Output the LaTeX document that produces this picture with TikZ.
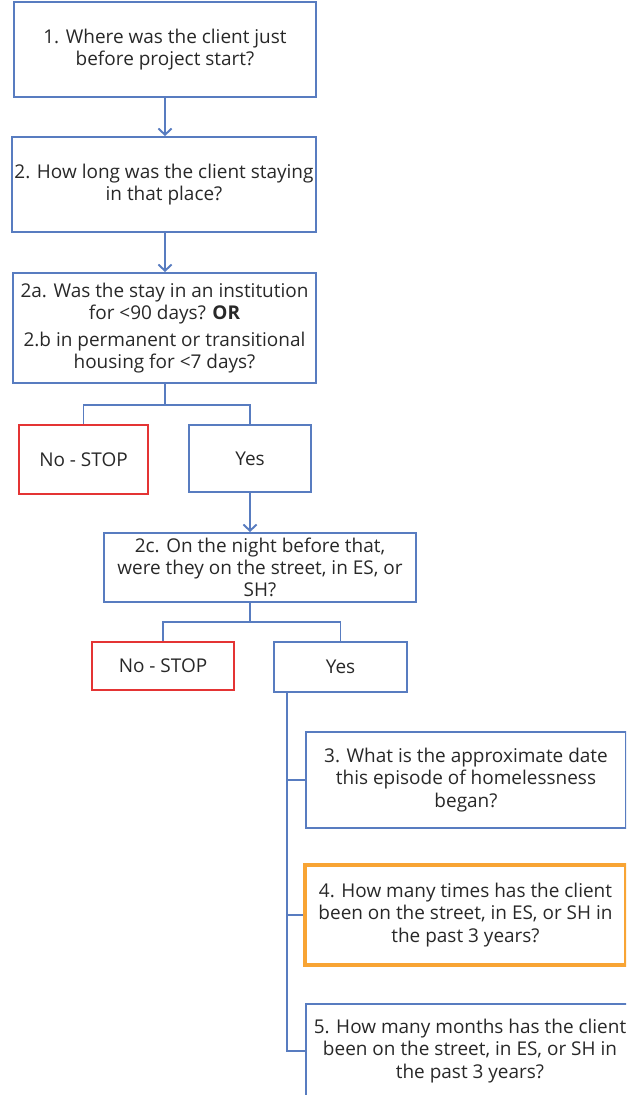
\documentclass[tikz,border=0pt]{standalone}
\usepackage{fontspec}
\setmainfont{Open Sans}
\usetikzlibrary{arrows.meta}
\definecolor{boxblue}{RGB}{88,124,192}
\definecolor{stopred}{RGB}{228,52,52}
\definecolor{markorange}{RGB}{248,164,52}
\definecolor{txtgray}{RGB}{40,40,40}

\begin{document}
\begin{tikzpicture}[auto,
    qbox/.style={draw=boxblue, line width=1.1pt, align=center, inner sep=0pt,
      text=txtgray, font=\fontsize{10.8}{12.6}\selectfont},
    stopbox/.style={qbox, draw=stopred},
    markbox/.style={qbox, draw=markorange, line width=2.3pt},
    link/.style={draw=boxblue, line width=1.1pt},
    flow/.style={link, -{Straight Barb[length=3.5pt,width=7.5pt]}}]
    \clip (0,0) rectangle (12.52,21.9);
    \node[qbox, minimum width=6.04cm, minimum height=1.90cm] (q1) at (3.30, 20.91) {1. Where was the client just\\before project start?};
    \node[qbox, minimum width=6.08cm, minimum height=1.90cm] (q2) at (3.28, 18.21) {2. How long was the client staying\\in that place?};
    \node[qbox, minimum width=6.06cm, minimum height=2.20cm] (q2a) at (3.29, 15.34) {2a. Was the stay in an institution\\for <90 days? \textbf{OR}\\[3pt]2.b in permanent or transitional\\housing for <7 days?};
    \node[stopbox, minimum width=2.58cm, minimum height=1.38cm] (no1) at (1.67, 12.71) {No - STOP};
    \node[qbox, minimum width=2.44cm, minimum height=1.34cm] (yes1) at (5.00, 12.73) {Yes};
    \node[qbox, minimum width=6.24cm, minimum height=1.38cm] (q2c) at (5.20, 10.55) {2c. On the night before that,\\were they on the street, in ES, or\\SH?};
    \node[stopbox, minimum width=2.84cm, minimum height=0.96cm] (no2) at (3.26, 8.58) {No - STOP};
    \node[qbox, minimum width=2.66cm, minimum height=1.00cm] (yes2) at (6.81, 8.56) {Yes};
    \node[qbox, minimum width=6.40cm, minimum height=1.92cm] (q3) at (9.32, 6.30) {3. What is the approximate date\\this episode of homelessness\\began?};
    \node[markbox, minimum width=6.42cm, minimum height=2.00cm] (q4) at (9.31, 3.60) {4. How many times has the client\\been on the street, in ES, or SH in\\the past 3 years?};
    \node[qbox, minimum width=6.56cm, minimum height=1.88cm] (q5) at (9.40, 0.88) {5. How many months has the client\\been on the street, in ES, or SH in\\the past 3 years?};
    \coordinate (split1) at (3.30, 13.80);
    \coordinate (split2) at (5.00, 9.46);
    \coordinate (trunk) at (5.74, 0.88);
    \draw [flow] (q1.south) to (q1.south |- q2.north);
    \draw [flow] (q1.south |- q2.south) to (q1.south |- q2a.north);
    \draw [link] (split1 |- q2a.south) -- (split1);
    \draw [link] (no1.north) |- (split1) -| (yes1.north);
    \draw [flow] (yes1.south) to (yes1.south |- q2c.north);
    \draw [link] (split2 |- q2c.south) -- (split2);
    \draw [link] (no2.north) |- (split2) -| (yes2.north);
    \draw [link] (trunk |- yes2.south) -- (trunk) -- (q5.west);
    \draw [link] (trunk |- q3.west) -- (q3.west);
    \draw [link] (trunk |- q4.west) -- (q4.west);
  \end{tikzpicture}
\end{document}
